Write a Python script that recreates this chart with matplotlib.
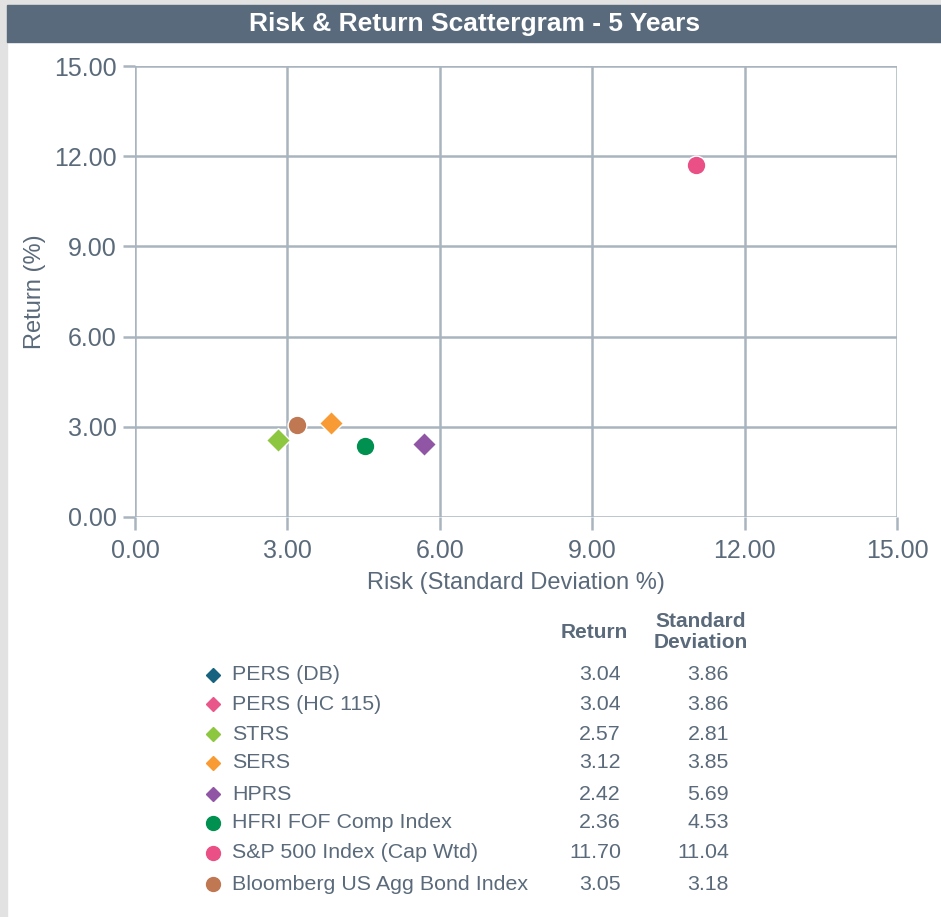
import matplotlib.pyplot as plt
from matplotlib.patches import Rectangle

plt.rcParams['font.family'] = ['Liberation Sans', 'DejaVu Sans']

names = ['PERS (DB)', 'PERS (HC 115)', 'STRS', 'SERS', 'HPRS',
         'HFRI FOF Comp Index', 'S&P 500 Index (Cap Wtd)', 'Bloomberg US Agg Bond Index']
returns = [3.04, 3.04, 2.57, 3.12, 2.42, 2.36, 11.70, 3.05]
stdevs = [3.86, 3.86, 2.81, 3.85, 5.69, 4.53, 11.04, 3.18]
on_chart = [False, False, True, True, True, True, True, True]
markers = ['D', 'D', 'D', 'D', 'D', 'o', 'o', 'o']
colors = ['#17627f', '#e9578a', '#8dc63f', '#f89b34', '#9155a5', '#009150', '#ea5085', '#c07852']
ticks = [0, 3, 6, 9, 12, 15]

txt = '#5a6a7a'
grid_c = '#a9b4bf'

W, H = 941, 917
fig = plt.figure(figsize=(W / 100, H / 100), dpi=100)

# frame and title banner
fig.patches.append(Rectangle((0, 0), 7 / W, 1, transform=fig.transFigure, color='#e2e2e2', zorder=0))
fig.patches.append(Rectangle((0, 1 - 5 / H), 1, 5 / H, transform=fig.transFigure, color='#e2e2e2', zorder=0))
fig.patches.append(Rectangle((7 / W, 1 - 42 / H), 1, 37 / H, transform=fig.transFigure, color='#586a7b', zorder=1))
fig.text(475 / W, 1 - 24 / H, 'Risk & Return Scattergram - 5 Years', color='white',
         fontsize=19, fontweight='bold', ha='center', va='center')

ax = fig.add_axes([135 / W, 1 - 517 / H, (897 - 135) / W, (517 - 66) / H])
for i in range(len(names)):
    if not on_chart[i]:
        continue
    ms = 12.5 if markers[i] == 'D' else 13.5
    ax.plot(stdevs[i], returns[i], marker=markers[i], color=colors[i], ms=ms,
            mec='white', mew=1, linestyle='none', zorder=3, clip_on=False)

ax.set_xlim(0, 15)
ax.set_ylim(0, 15)
ax.set_xticks(ticks)
ax.set_yticks(ticks)
ax.set_xticklabels([f'{t:.2f}' for t in ticks])
ax.set_yticklabels([f'{t:.2f}' for t in ticks])
ax.grid(True, color=grid_c, linewidth=1.8)
ax.set_axisbelow(True)
for s in ax.spines.values():
    s.set_visible(False)
ax.tick_params(colors=grid_c, width=1.8, length=9, labelcolor=txt, labelsize=18)
ax.tick_params(axis='x', pad=7)
ax.tick_params(axis='y', pad=4)
ax.set_xlabel('Risk (Standard Deviation %)', color=txt, fontsize=17, labelpad=6)
ax.set_ylabel('Return (%)', color=txt, fontsize=17, labelpad=6)

# table legend
fig.text(594 / W, 1 - 633 / H, 'Return', color=txt, fontsize=15, fontweight='bold', ha='center', va='center')
fig.text(701 / W, 1 - 632 / H, 'Standard\nDeviation', color=txt, fontsize=15, fontweight='bold',
         ha='center', va='center', linespacing=1.15)
row_y = [675, 704, 734, 763, 794, 823, 853, 884]
for i in range(len(names)):
    y = 1 - row_y[i] / H
    ms = 7.5 if markers[i] == 'D' else 10
    fig.lines.append(plt.Line2D([213 / W], [y], marker=markers[i], color=colors[i], ms=ms,
                                linestyle='none', transform=fig.transFigure))
    fig.text(232 / W, y, names[i], color=txt, fontsize=15.4, va='center')
    fig.text(621 / W, y, f'{returns[i]:.2f}', color=txt, fontsize=15.4, va='center', ha='right')
    fig.text(729 / W, y, f'{stdevs[i]:.2f}', color=txt, fontsize=15.4, va='center', ha='right')

fig.savefig('out.png', dpi=100, facecolor='white')
